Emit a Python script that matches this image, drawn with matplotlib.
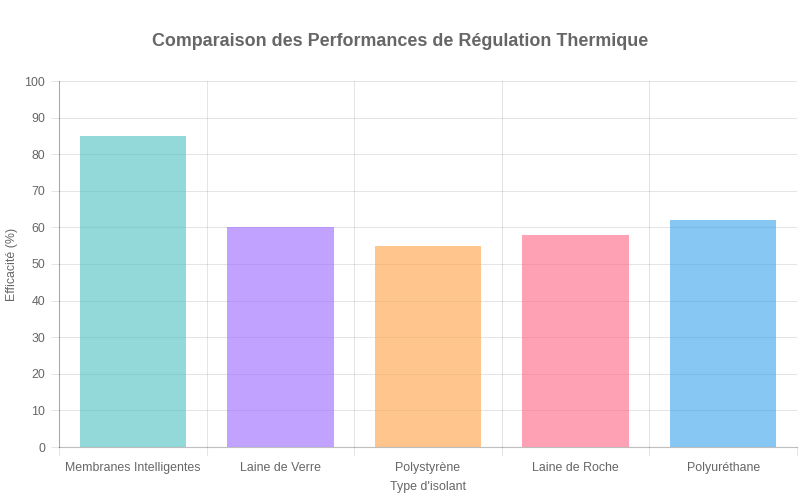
import matplotlib
matplotlib.use("Agg")
import matplotlib.pyplot as plt
import numpy as np

categories = ["Membranes Intelligentes", "Laine de Verre", "Polystyrène", "Laine de Roche", "Polyuréthane"]
values = [85, 60, 55, 58, 62]
colors = [(75/255, 192/255, 192/255, 0.6), (153/255, 102/255, 255/255, 0.6),
          (255/255, 159/255, 64/255, 0.6), (255/255, 99/255, 132/255, 0.6),
          (54/255, 162/255, 235/255, 0.6)]
yticks = list(range(0, 101, 10))

plt.rcParams['font.family'] = ['Liberation Sans', 'DejaVu Sans']
fig = plt.figure(figsize=(8, 5), dpi=100)
ax = fig.add_axes([59/800, 1-447/500, (797-59)/800, (447-81)/500])

x = np.arange(len(categories))
ax.bar(x, values, width=0.72, color=colors, zorder=3)
ax.set_xlim(-0.5, len(categories)-0.5)
ax.set_ylim(0, 100)
ax.set_yticks(yticks)
ax.set_xticks(x)
ax.set_xticklabels(categories)
ax.tick_params(axis='both', colors='#666666', labelsize=8.9, length=6, width=0.8)
ax.tick_params(axis='x', length=0, pad=11)
ax.tick_params(axis='y', color=(0, 0, 0, 0.1), pad=4)
for b in np.arange(-0.5, len(categories), 1.0):
    ax.axvline(b, color=(0, 0, 0, 0.1), lw=0.8, zorder=1)
    ax.plot([b, b], [0, -0.022], transform=ax.get_xaxis_transform(), clip_on=False,
            color=(0, 0, 0, 0.1), lw=0.8)
for t in yticks:
    ax.axhline(t, color=(0, 0, 0, 0.1), lw=0.8, zorder=1)
for s in ['top', 'right']:
    ax.spines[s].set_visible(False)
for s in ['left', 'bottom']:
    ax.spines[s].set_color((0, 0, 0, 0.25))
    ax.spines[s].set_linewidth(0.8)
    ax.spines[s].set_zorder(4)

fig.text(12/800, 1-264/500, "Efficacité (%)", rotation=90, ha='center', va='center',
         color='#666666', fontsize=8.9)
fig.text(428/800, 1-487/500, "Type d'isolant", ha='center', va='center',
         color='#666666', fontsize=8.9)
fig.text(0.5, 1-41/500, "Comparaison des Performances de Régulation Thermique",
         ha='center', va='center', fontsize=12.9, fontweight='bold', color='#666666')

fig.savefig("out.png", dpi=100)
